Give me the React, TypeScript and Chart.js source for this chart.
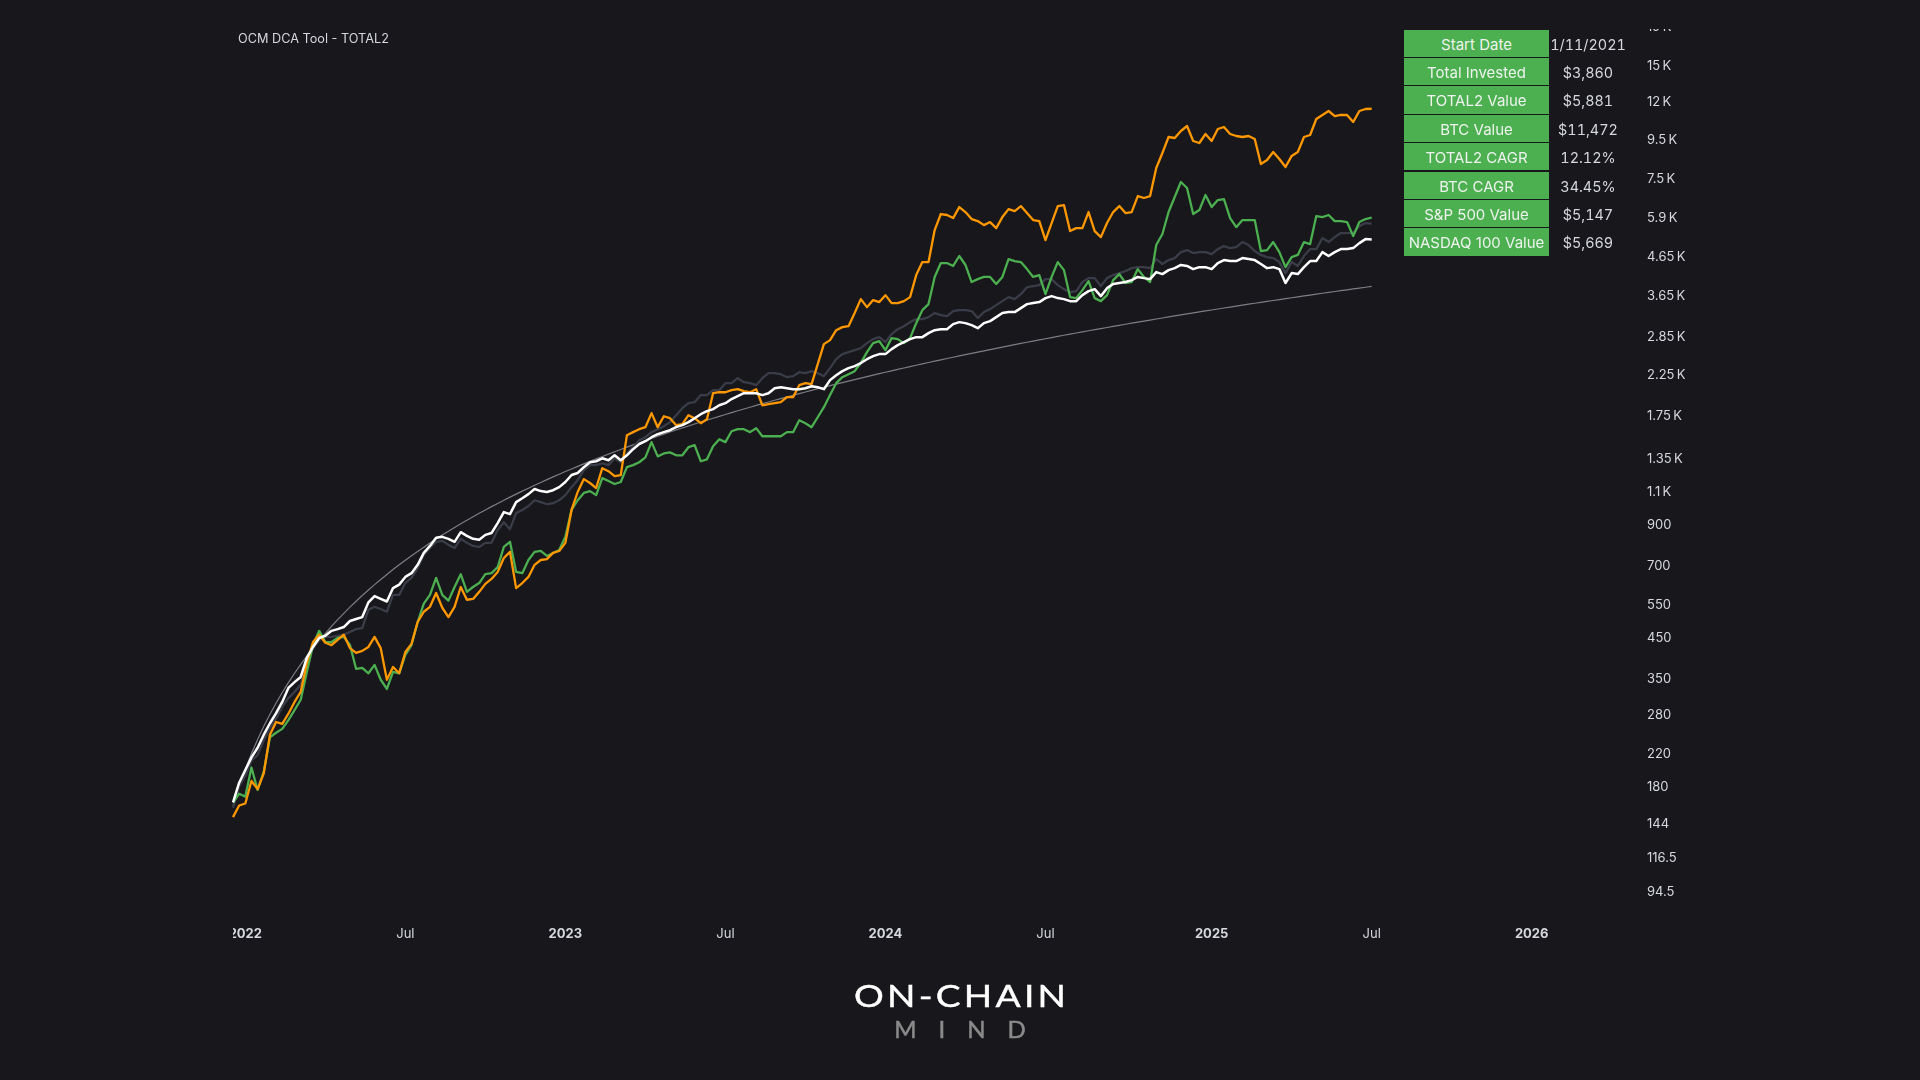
import React, { useEffect, useRef } from "react";
import { Chart, registerables } from "chart.js";

Chart.register(...registerables);

const BG = "#17171c";
const FONT = "Inter, 'Noto Sans', sans-serif";

const totalInvested = [160,180,200,220,240,260,280,300,320,340,360,380,400,420,440,460,480,500,520,540,560,580,600,620,640,660,680,700,720,740,760,780,800,820,840,860,880,900,920,940,960,980,1000,1020,1040,1060,1080,1100,1120,1140,1160,1180,1200,1220,1240,1260,1280,1300,1320,1340,1360,1380,1400,1420,1440,1460,1480,1500,1520,1540,1560,1580,1600,1620,1640,1660,1680,1700,1720,1740,1760,1780,1800,1820,1840,1860,1880,1900,1920,1940,1960,1980,2000,2020,2040,2060,2080,2100,2120,2140,2160,2180,2200,2220,2240,2260,2280,2300,2320,2340,2360,2380,2400,2420,2440,2460,2480,2500,2520,2540,2560,2580,2600,2620,2640,2660,2680,2700,2720,2740,2760,2780,2800,2820,2840,2860,2880,2900,2920,2940,2960,2980,3000,3020,3040,3060,3080,3100,3120,3140,3160,3180,3200,3220,3240,3260,3280,3300,3320,3340,3360,3380,3400,3420,3440,3460,3480,3500,3520,3540,3560,3580,3600,3620,3640,3660,3680,3700,3720,3740,3760,3780,3800,3820,3840,3860];

const btcValue = [149,160,162,186,177,195,247,267,264,281,302,321,384,436,456,434,428,442,456,420,408,413,423,450,420,346,374,360,410,431,493,525,541,589,538,508,541,611,565,568,593,623,642,670,730,758,607,626,650,700,721,725,753,762,801,980,1094,1184,1156,1121,1266,1243,1206,1214,1550,1579,1608,1628,1774,1628,1741,1720,1648,1658,1752,1720,1668,1709,2005,2017,2017,2042,2055,2030,2017,2055,1862,1874,1886,1898,1957,1957,2106,2132,2119,2396,2709,2776,2951,3006,3024,3277,3570,3398,3548,3505,3658,3484,3484,3526,3614,4137,4480,4480,5451,6015,5979,5868,6277,6088,5832,5761,5620,5726,5518,5904,6200,6125,6315,6051,5796,5761,5127,5691,6315,6355,5418,5518,5518,6088,5418,5220,5691,6088,6315,6051,6088,6716,6635,6716,7975,8745,9646,9587,10007,10320,9412,9298,9825,9412,10131,10257,9825,9705,9646,9705,9528,8172,8376,8800,8428,8025,8590,8800,9646,9765,10772,11040,11314,10970,11040,11040,10577,11314,11454,11472];

const total2Value = [163,172,169,202,176,197,243,250,256,270,287,306,363,428,467,436,436,447,450,428,370,372,360,379,346,327,363,360,403,428,493,552,582,646,582,562,611,661,593,611,626,661,665,690,781,806,670,665,721,758,762,739,753,767,831,980,1040,1088,1100,1073,1191,1170,1149,1163,1274,1290,1313,1353,1485,1361,1386,1395,1370,1370,1440,1458,1321,1337,1449,1512,1485,1588,1608,1608,1579,1618,1540,1540,1540,1540,1579,1579,1699,1668,1628,1730,1840,1982,2132,2212,2253,2295,2412,2580,2725,2759,2611,2810,2793,2725,2810,3081,3337,3462,4090,4454,4454,4375,4650,4401,3964,4035,4090,4090,3917,4090,4563,4508,4480,4291,4090,4137,3680,4090,4480,4265,3614,3592,3772,3987,3592,3526,3658,4011,4162,3941,3964,4291,4090,3964,4974,5320,6088,6675,7320,7054,6015,6163,6760,6277,6553,6593,5868,5550,5796,5796,5796,4793,4822,5065,4763,4343,4620,4680,5065,5003,5940,5904,5979,5761,5761,5726,5253,5726,5832,5881];

const sp500Value = [163,184,199,215,228,247,265,282,302,329,341,352,396,423,447,453,467,472,478,496,502,508,556,578,568,559,607,620,650,665,700,753,786,826,831,821,806,855,836,821,816,841,851,904,967,955,1028,1053,1080,1114,1100,1094,1106,1127,1163,1214,1229,1274,1313,1321,1345,1329,1370,1329,1370,1422,1467,1494,1531,1559,1579,1598,1628,1648,1679,1720,1763,1796,1818,1862,1886,1934,1970,2005,2005,2005,1982,2005,2067,2080,2067,2055,2055,2067,2093,2080,2055,2172,2239,2295,2338,2367,2412,2470,2516,2548,2548,2627,2693,2742,2793,2827,2827,2898,2951,2969,2969,3062,3100,3081,3043,2987,3081,3119,3197,3277,3297,3297,3378,3462,3484,3505,3592,3636,3592,3570,3526,3526,3658,3749,3795,3636,3818,3917,3941,3964,4011,4090,4060,4035,4213,4162,4265,4317,4401,4375,4291,4343,4343,4291,4454,4535,4508,4508,4592,4563,4535,4428,4317,4343,4291,3941,4188,4162,4343,4508,4508,4763,4650,4763,4851,4851,4881,5033,5158,5147];

const nasdaqValue = [158,180,192,211,218,239,257,273,293,309,321,336,391,420,442,450,450,453,456,464,472,475,531,541,534,525,582,582,626,646,686,743,776,806,811,791,776,821,801,786,781,801,801,866,909,871,961,980,1004,1040,1028,1015,1021,1040,1073,1127,1177,1251,1290,1290,1305,1290,1345,1313,1386,1440,1503,1531,1579,1608,1638,1679,1752,1829,1886,1898,1982,1982,2042,2042,2132,2132,2199,2145,2132,2106,2199,2267,2267,2253,2212,2226,2281,2267,2295,2267,2226,2338,2470,2548,2580,2611,2643,2725,2793,2827,2742,2880,2969,3024,3100,3158,3158,3197,3277,3237,3217,3317,3337,3337,3317,3178,3297,3357,3441,3526,3614,3570,3680,3841,3865,3889,4035,4035,3889,3795,3726,3749,3964,4060,4060,3865,4060,4137,4188,4239,4317,4343,4343,4317,4563,4428,4535,4592,4763,4822,4735,4763,4763,4706,4851,4942,4881,4912,5065,4974,4793,4680,4620,4592,4480,4188,4480,4375,4650,4851,4851,5190,5065,5220,5353,5353,5353,5585,5691,5669];

const yTickValues = [94.5,116.5,144,180,220,280,350,450,550,700,900,1100,1350,1750,2250,2850,3650,4650,5900,7500,9500,12000,15000,19000];
const yTickLabels = ["94.5","116.5","144","180","220","280","350","450","550","700","900","1.1\u2009K","1.35\u2009K","1.75\u2009K","2.25\u2009K","2.85\u2009K","3.65\u2009K","4.65\u2009K","5.9\u2009K","7.5\u2009K","9.5\u2009K","12\u2009K","15\u2009K","19\u2009K"];
const xTickWeeks = [2,28,54,80,106,132,159,185,211];
const xTickLabels = ["2022","Jul","2023","Jul","2024","Jul","2025","Jul","2026"];
const weekCount = 230;

const tableLabels = ["Start Date","Total Invested","TOTAL2 Value","BTC Value","TOTAL2 CAGR","BTC CAGR","S&P 500 Value","NASDAQ 100 Value"];
const tableValues = ["1/11/2021","$3,860","$5,881","$11,472","12.12%","34.45%","$5,147","$5,669"];

const maskPlugin = {
  id: "edgeMask",
  afterDraw(chart: any) {
    const { ctx, chartArea } = chart;
    ctx.save();
    ctx.fillStyle = BG;
    ctx.fillRect(0, chartArea.bottom, chartArea.left, 60);
    ctx.fillRect(chartArea.right, 0, 300, 29);
    ctx.restore();
  },
};

export default function App() {
  const ref = useRef<HTMLCanvasElement | null>(null);

  useEffect(() => {
    document.body.style.margin = "0";
    document.body.style.background = BG;
    const chart = new Chart(ref.current as HTMLCanvasElement, {
      type: "line",
      data: {
        labels: Array.from({ length: weekCount }, (_, i) => String(i)),
        datasets: [
          { label: "Invested", data: totalInvested, borderColor: "#7d7d85", borderWidth: 1.2, order: 5 },
          { label: "NASDAQ 100", data: nasdaqValue, borderColor: "#3a3d48", borderWidth: 2.3, order: 4 },
          { label: "TOTAL2", data: total2Value, borderColor: "#4caf50", borderWidth: 2.3, order: 3 },
          { label: "BTC", data: btcValue, borderColor: "#ff9800", borderWidth: 2.3, order: 2 },
          { label: "S&P 500", data: sp500Value, borderColor: "#ffffff", borderWidth: 2.5, order: 1 },
        ],
      },
      options: {
        animation: false,
        responsive: false,
        devicePixelRatio: 1,
        layout: { padding: { left: 233, top: 0, right: 0, bottom: 0 } },
        elements: { point: { radius: 0 }, line: { tension: 0, borderJoinStyle: "round" } },
        plugins: { legend: { display: false }, tooltip: { enabled: false }, title: { display: false } },
        scales: {
          x: {
            type: "category",
            grid: { display: false, drawTicks: false },
            border: { display: false },
            afterFit: (s: any) => { s.height = 160; s.paddingLeft = 0; s.paddingRight = 0; },
            afterBuildTicks: (s: any) => { s.ticks = xTickWeeks.map((value) => ({ value })); },
            ticks: {
              autoSkip: false,
              maxRotation: 0,
              padding: 6.5,
              color: "#d6d8de",
              callback: (_v: any, i: number) => xTickLabels[i],
              font: (c: any) => ({
                family: FONT,
                size: 13,
                weight: /^\d/.test(xTickLabels[c.index] || "") ? "700" : "400",
              }),
            },
          },
          y: {
            type: "logarithmic",
            position: "right",
            min: 79.3,
            max: 22345,
            grid: { display: false, drawTicks: false },
            border: { display: false },
            afterFit: (s: any) => { s.width = 277.5; s.paddingTop = 0; s.paddingBottom = 0; },
            afterBuildTicks: (s: any) => { s.ticks = yTickValues.map((value) => ({ value })); },
            ticks: {
              autoSkip: false,
              padding: 4.5,
              labelOffset: 1,
              color: "#d6d8de",
              callback: (_v: any, i: number) => yTickLabels[i],
              font: { family: FONT, size: 13 },
            },
          },
        },
      },
      plugins: [maskPlugin],
    } as any);
    return () => chart.destroy();
  }, []);

  return (
    <div style={{ position: "absolute", left: 0, top: 0, width: 1920, height: 1080, background: BG, overflow: "hidden", fontFamily: FONT }}>
      <canvas ref={ref} width={1920} height={1080} style={{ position: "absolute", left: 0, top: 0, width: 1920, height: 1080 }} />
      <div style={{ position: "absolute", left: 238, top: 31, fontSize: 12.7, lineHeight: "16px", color: "#d6d8de" }}>OCM DCA Tool - TOTAL2</div>
      {tableLabels.map((label, i) => (
        <React.Fragment key={label}>
          <div style={{ position: "absolute", left: 1404, width: 145, top: 29.5 + i * 28.4, height: 27.4, background: "#4caf50", color: "#eef3ee", fontSize: 15, lineHeight: "29.5px", textAlign: "center", whiteSpace: "nowrap" }}>{label}</div>
          <div style={{ position: "absolute", left: 1549, width: 78, top: 29.5 + i * 28.4, height: 27.4, color: "#d6d8de", fontSize: 14.4, lineHeight: "29.5px", textAlign: "center", whiteSpace: "nowrap", fontVariantNumeric: "tabular-nums" }}>{tableValues[i]}</div>
        </React.Fragment>
      ))}
      <div style={{ position: "absolute", left: 0, width: 1920, top: 977, textAlign: "center", fontFamily: "Lato, Inter, sans-serif", fontSize: 31, lineHeight: "36px", letterSpacing: 2.7, color: "#ffffff", whiteSpace: "nowrap", textIndent: 2.7, transform: "scaleX(1.2)", transformOrigin: "960px 50%", WebkitTextStroke: "0.4px #ffffff" }}>ON-CHAIN</div>
      <div style={{ position: "absolute", left: 0, width: 1920, top: 1014, textAlign: "center", fontFamily: "Lato, Inter, sans-serif", fontSize: 24, lineHeight: "30px", letterSpacing: 22, color: "#8a8a8a", whiteSpace: "nowrap", textIndent: 22, WebkitTextStroke: "0.5px #8a8a8a" }}>MIND</div>
    </div>
  );
}
